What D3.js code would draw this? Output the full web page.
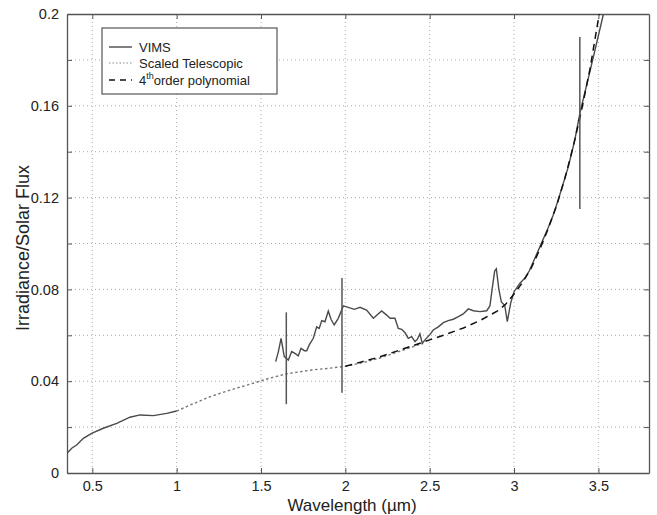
<!DOCTYPE html>
<html>
<head>
<meta charset="utf-8">
<script src="https://cdn.jsdelivr.net/npm/d3@7"></script>
<style>
  body { margin: 0; background: #fff; }
  text { font-family: "Liberation Sans", Arial, sans-serif; fill: #222; }
</style>
</head>
<body>
<script>
// Data
// VIMS, visible channel (0.35 - 1.0 um)
var vimsVisWave = [0.35, 0.378, 0.407, 0.447, 0.496, 0.565, 0.645, 0.723, 0.783, 0.862, 0.941, 1.0];
var vimsVisFlux = [0.0086, 0.0108, 0.0122, 0.0151, 0.0173, 0.0195, 0.0216, 0.0243, 0.0253, 0.025, 0.026, 0.027];

// VIMS, infrared channel (1.59 - 3.53 um)
var vimsIrWave = [1.587, 1.603, 1.619, 1.638, 1.662, 1.682, 1.706, 1.721, 1.737, 1.757, 1.771, 1.786,
  1.81, 1.83, 1.845, 1.86, 1.879, 1.899, 1.915, 1.934, 1.958, 1.988, 2.017, 2.053, 2.087, 2.126,
  2.166, 2.215, 2.245, 2.265, 2.294, 2.314, 2.334, 2.354, 2.373, 2.393, 2.413, 2.427, 2.442, 2.456,
  2.472, 2.502, 2.521, 2.551, 2.581, 2.61, 2.64, 2.67, 2.699, 2.729, 2.758, 2.798, 2.838, 2.857,
  2.87, 2.885, 2.895, 2.91, 2.925, 2.945, 2.96, 2.98, 3.0, 3.035, 3.065, 3.09, 3.144, 3.203, 3.23,
  3.262, 3.322, 3.36, 3.391, 3.45, 3.53];
var vimsIrFlux = [0.0485, 0.0529, 0.0587, 0.0507, 0.0492, 0.0529, 0.0519, 0.051, 0.0543, 0.0533, 0.0533, 0.0558,
  0.0587, 0.0637, 0.063, 0.0664, 0.0659, 0.0706, 0.067, 0.0645, 0.0674, 0.0728, 0.0722, 0.0713, 0.0722, 0.071,
  0.0674, 0.0706, 0.0688, 0.0674, 0.0674, 0.063, 0.0626, 0.0611, 0.0587, 0.0594, 0.0572, 0.0583, 0.0606, 0.0565,
  0.058, 0.0604, 0.0623, 0.0637, 0.0655, 0.0664, 0.067, 0.0681, 0.0693, 0.0715, 0.0707, 0.0703, 0.0707, 0.0728,
  0.080, 0.088, 0.089, 0.080, 0.0745, 0.073, 0.066, 0.074, 0.079, 0.0827, 0.085, 0.088, 0.097, 0.107, 0.112,
  0.119, 0.1335, 0.145, 0.157, 0.175, 0.2];

// Scaled telescopic spectrum
var teleWave = [1.0, 1.08, 1.2, 1.32, 1.44, 1.55, 1.65, 1.8, 1.9, 2.0, 2.1, 2.2, 2.3, 2.4, 2.46];
var teleFlux = [0.027, 0.0296, 0.0333, 0.0362, 0.0388, 0.0413, 0.0432, 0.0449, 0.0456, 0.0465, 0.048, 0.050, 0.0525, 0.055, 0.0565];

// 4th order polynomial fit
var polyWave = [2.0, 2.1, 2.2, 2.3, 2.4, 2.5, 2.6, 2.7, 2.8, 2.9, 2.95, 3.0, 3.05, 3.1, 3.15, 3.2, 3.25, 3.3, 3.35, 3.4, 3.45, 3.505];
var polyFlux = [0.0465, 0.0485, 0.0505, 0.053, 0.0555, 0.058, 0.0605, 0.0632, 0.0665, 0.0705, 0.0735, 0.078, 0.083, 0.089, 0.097, 0.106, 0.116, 0.128, 0.142, 0.158, 0.176, 0.2];

// Error bars
var errWave = [1.65, 1.98, 3.39];
var errLow = [0.030, 0.035, 0.115];
var errHigh = [0.070, 0.085, 0.19];

// Ticks
var xTicks = [0.5, 1, 1.5, 2, 2.5, 3, 3.5];
var yTicks = [0, 0.02, 0.04, 0.06, 0.08, 0.1, 0.12, 0.14, 0.16, 0.18, 0.2];
var yLabels = [0, 0.04, 0.08, 0.12, 0.16, 0.2];

var width = 657, height = 515;
var margin = {left: 67, right: 8, top: 14, bottom: 42};
var plotW = width - margin.left - margin.right,
    plotH = height - margin.top - margin.bottom;

var x = d3.scaleLinear().domain([0.35, 3.8]).range([0, plotW]);
var y = d3.scaleLinear().domain([0, 0.2]).range([plotH, 0]);

var svg = d3.select("body").append("svg")
    .attr("width", width)
    .attr("height", height);

svg.append("defs").append("clipPath").attr("id", "clip")
  .append("rect").attr("width", plotW).attr("height", plotH);

var g = svg.append("g")
    .attr("transform", "translate(" + margin.left + "," + margin.top + ")");

// Dotted grid
g.append("g").selectAll("line")
  .data(xTicks).enter().append("line")
    .attr("x1", function(d) { return x(d); })
    .attr("x2", function(d) { return x(d); })
    .attr("y1", 0).attr("y2", plotH)
    .attr("stroke", "#aaa").attr("stroke-dasharray", "1,3");

g.append("g").selectAll("line")
  .data(yTicks.slice(1, -1)).enter().append("line")
    .attr("y1", function(d) { return y(d); })
    .attr("y2", function(d) { return y(d); })
    .attr("x1", 0).attr("x2", plotW)
    .attr("stroke", "#aaa").attr("stroke-dasharray", "1,3");

// Axes (ticks inward, box style)
var tickLen = 5;
var axB = g.append("g").attr("transform", "translate(0," + plotH + ")")
  .call(d3.axisBottom(x).tickValues(xTicks).tickSizeInner(-tickLen).tickSizeOuter(0).tickPadding(8)
        .tickFormat(function(d) { return d; }));
var axT = g.append("g")
  .call(d3.axisTop(x).tickValues(xTicks).tickSizeInner(-tickLen).tickSizeOuter(0).tickFormat(""));
var axL = g.append("g")
  .call(d3.axisLeft(y).tickValues(yTicks).tickSizeInner(-tickLen).tickSizeOuter(0).tickPadding(8)
        .tickFormat(function(d) { return yLabels.some(function(v) { return Math.abs(v - d) < 1e-9; }) ? d3.format("~g")(d) : ""; }));
var axR = g.append("g").attr("transform", "translate(" + plotW + ",0)")
  .call(d3.axisRight(y).tickValues(yTicks).tickSizeInner(-tickLen).tickSizeOuter(0).tickFormat(""));

[axB, axT, axL, axR].forEach(function(a) {
  a.select(".domain").attr("stroke", "#555").attr("stroke-width", 1.3);
  a.selectAll(".tick line").attr("stroke", "#555");
  a.selectAll("text").style("font-size", "14.5px").attr("fill", "#222")
    .style("font-family", "'Liberation Sans', Arial, sans-serif");
});

// Series
var line = d3.line()
    .x(function(d) { return x(d[0]); })
    .y(function(d) { return y(d[1]); });

function zip(a, b) { return a.map(function(v, i) { return [v, b[i]]; }); }

var plot = g.append("g").attr("clip-path", "url(#clip)");

plot.append("path").datum(zip(teleWave, teleFlux))
    .attr("d", line).attr("fill", "none")
    .attr("stroke", "#777").attr("stroke-width", 1.4).attr("stroke-dasharray", "2.5,2.5");

plot.append("path").datum(zip(vimsVisWave, vimsVisFlux))
    .attr("d", line).attr("fill", "none")
    .attr("stroke", "#4a4a4a").attr("stroke-width", 1.4);

plot.append("path").datum(zip(vimsIrWave, vimsIrFlux))
    .attr("d", line).attr("fill", "none")
    .attr("stroke", "#4a4a4a").attr("stroke-width", 1.4);

plot.append("path").datum(zip(polyWave, polyFlux))
    .attr("d", line).attr("fill", "none")
    .attr("stroke", "#111").attr("stroke-width", 1.5).attr("stroke-dasharray", "7,5");

// Error bars
plot.selectAll(".err")
  .data(errWave).enter().append("line")
    .attr("class", "err")
    .attr("x1", function(d) { return x(d); })
    .attr("x2", function(d) { return x(d); })
    .attr("y1", function(d, i) { return y(errLow[i]); })
    .attr("y2", function(d, i) { return y(errHigh[i]); })
    .attr("stroke", "#555").attr("stroke-width", 1.5);

// Axis labels
svg.append("text")
    .attr("x", 352).attr("y", 511)
    .attr("text-anchor", "middle").style("font-size", "17px")
    .text("Wavelength (\u00b5m)");

svg.append("text")
    .attr("transform", "translate(29,248) rotate(-90)")
    .attr("text-anchor", "middle").style("font-size", "18px")
    .text("Irradiance/Solar Flux");

// Legend
var leg = svg.append("g");
leg.append("rect")
    .attr("x", 102).attr("y", 28).attr("width", 175).attr("height", 66)
    .attr("fill", "#fff").attr("stroke", "#555").attr("stroke-width", 1.2);

var legStyles = [
  {stroke: "#4a4a4a", dash: null, w: 1.4},
  {stroke: "#888", dash: "1.5,2", w: 1.2},
  {stroke: "#111", dash: "6,5", w: 1.6}
];
var legY = [47, 63, 80];

leg.selectAll(".ll").data(legStyles).enter().append("line")
    .attr("x1", 109).attr("x2", 132)
    .attr("y1", function(d, i) { return legY[i]; })
    .attr("y2", function(d, i) { return legY[i]; })
    .attr("stroke", function(d) { return d.stroke; })
    .attr("stroke-width", function(d) { return d.w; })
    .attr("stroke-dasharray", function(d) { return d.dash; });

leg.append("text").attr("x", 139).attr("y", legY[0] + 5).style("font-size", "13px").text("VIMS");
leg.append("text").attr("x", 139).attr("y", legY[1] + 5).style("font-size", "13px").text("Scaled Telescopic");
var t3 = leg.append("text").attr("x", 139).attr("y", legY[2] + 5).style("font-size", "13px");
t3.append("tspan").text("4");
t3.append("tspan").attr("dy", -6).style("font-size", "9px").text("th");
t3.append("tspan").attr("dy", 6).text("order polynomial");
</script>
</body>
</html>
